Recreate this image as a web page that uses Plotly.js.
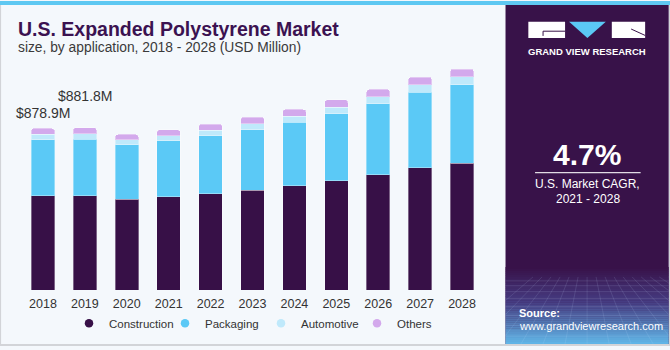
<!DOCTYPE html>
<html>
<head>
<meta charset="utf-8">
<script src="https://cdn.plot.ly/plotly-3.0.1.min.js"></script>
<style>html,body{margin:0;padding:0;background:#f4f8fc;}#chart{width:670px;height:350px;}</style>
</head>
<body>
<div id="chart"></div>
<script>
// ---- data ----
var years = ['2018','2019','2020','2021','2022','2023','2024','2025','2026','2027','2028'];
var construction = [514, 514, 493, 507, 523, 543, 568, 595, 627, 665, 689];
var packaging    = [303, 307, 296, 304, 315, 329, 345, 364, 386, 411, 427];
var automotive   = [29, 29, 28, 28, 30, 31, 32, 35, 39, 41, 44];
var others       = [33, 32, 29, 32, 34, 38, 37, 40, 39, 41, 42];
var seriesNames  = ['Construction', 'Packaging', 'Automotive', 'Others'];
var labelYears   = ['2018', '2019'];
var labelTexts   = ['$878.9M', '$881.8M'];
var cagrText = '4.7%';

// ---- geometry helpers (pixel -> paper) ----
var L = 22.4, W = 460.6, T = 50.8, H = 242.5, B = T + H;
function X(px){ return (px - L) / W; }
function Y(py){ return (B - py) / H; }

var colors = ['#371047', '#5bc9f6', '#bfe9fb', '#d3a9ec'];
var vals = [construction, packaging, automotive, others];
var FONT = 'Liberation Sans, Arial, sans-serif';

var traces = [];
for (var i = 0; i < 4; i++) {
  traces.push({
    type: 'bar', x: years, y: vals[i], name: seriesNames[i],
    marker: {color: colors[i], line: {color: 'rgba(255,255,255,0.35)', width: 1}},
    showlegend: false, hoverinfo: 'skip'
  });
}
for (var j = 0; j < 4; j++) {
  traces.push({
    type: 'scatter', mode: 'markers', x: [null], y: [null], name: seriesNames[j],
    marker: {color: colors[j], size: 8.5, symbol: 'circle'}, showlegend: true, hoverinfo: 'skip'
  });
}

// totals for the labels
var totals = years.map(function(_, k){ return construction[k] + packaging[k] + automotive[k] + others[k]; });

var annotations = [
  {text: 'U.S. Expanded Polystyrene Market', xref: 'paper', yref: 'paper', x: X(16.5), y: Y(28),
   xanchor: 'left', yanchor: 'middle', showarrow: false,
   font: {family: FONT, size: 19.5, color: '#3b1251', weight: 'bold'}},
  {text: 'size, by application, 2018 - 2028 (USD Million)', xref: 'paper', yref: 'paper', x: X(16.5), y: Y(47.5),
   xanchor: 'left', yanchor: 'middle', showarrow: false,
   font: {family: FONT, size: 13.8, color: '#3a3a3a'}},
  // right panel text
  {text: 'GRAND VIEW RESEARCH', xref: 'paper', yref: 'paper', x: X(586.5), y: Y(51),
   xanchor: 'center', yanchor: 'middle', showarrow: false,
   font: {family: FONT, size: 9.5, color: '#ffffff', weight: 'bold'}},
  {text: cagrText, xref: 'paper', yref: 'paper', x: X(587), y: Y(156),
   xanchor: 'center', yanchor: 'middle', showarrow: false,
   font: {family: FONT, size: 30, color: '#ffffff', weight: 'bold'}},
  {text: 'U.S. Market CAGR,', xref: 'paper', yref: 'paper', x: X(587.5), y: Y(186),
   xanchor: 'center', yanchor: 'middle', showarrow: false,
   font: {family: FONT, size: 12, color: '#ffffff'}},
  {text: '2021 - 2028', xref: 'paper', yref: 'paper', x: X(587.5), y: Y(201),
   xanchor: 'center', yanchor: 'middle', showarrow: false,
   font: {family: FONT, size: 12, color: '#ffffff'}},
  {text: '<b>Source:</b>', xref: 'paper', yref: 'paper', x: X(517), y: Y(317),
   xanchor: 'left', yanchor: 'middle', showarrow: false,
   font: {family: FONT, size: 11, color: '#ffffff'}},
  {text: 'www.grandviewresearch.com', xref: 'paper', yref: 'paper', x: X(517), y: Y(330),
   xanchor: 'left', yanchor: 'middle', showarrow: false,
   font: {family: FONT, size: 11, color: '#ffffff'}}
];
var shifts = [15, 32];
for (var a = 0; a < labelYears.length; a++) {
  var idx = years.indexOf(labelYears[a]);
  annotations.push({text: labelTexts[a], x: idx, y: totals[idx], xref: 'x', yref: 'y',
    yshift: shifts[a], yanchor: 'middle', xanchor: 'center', showarrow: false,
    font: {family: FONT, size: 14, color: '#333333'}});
}

function rect(x0, y0, x1, y1, fill, extra) {
  var s = {type: 'rect', xref: 'paper', yref: 'paper', x0: X(x0), x1: X(x1), y0: Y(y0), y1: Y(y1),
    fillcolor: fill, line: {width: 0}, layer: 'below'};
  if (extra) for (var k in extra) s[k] = extra[k];
  return s;
}
function line(x0, y0, x1, y1, color, w) {
  return {type: 'line', xref: 'paper', yref: 'paper', x0: X(x0), x1: X(x1), y0: Y(y0), y1: Y(y1),
    line: {color: color, width: w}, layer: 'above'};
}

var shapes = [];
// frame
shapes.push(rect(0, 0, 670, 4, '#5ec8f2', {layer: 'above'}));
shapes.push(rect(0, 4, 1.5, 350, '#d2d4d8', {layer: 'above'}));
shapes.push(rect(0, 348, 670, 350, '#d2d4d8', {layer: 'above'}));
shapes.push(rect(668.5, 4, 670, 350, '#d2d4d8', {layer: 'above'}));
// panel
shapes.push(rect(505.5, 4, 668.5, 348, '#381249', {layer: 'above'}));
// gradient at panel bottom
var g0 = [56, 18, 73], g1 = [70, 60, 130], g2 = [96, 180, 230];
var ys = 270, ye = 348, steps = 39;
for (var s = 0; s < steps; s++) {
  var t = s / (steps - 1), c;
  if (t < 0.45) { var u = t / 0.45; c = g0.map(function(v, q){ return Math.round(v + (g1[q] - v) * u); }); }
  else { var u2 = (t - 0.45) / 0.55; c = g1.map(function(v, q){ return Math.round(v + (g2[q] - v) * u2); }); }
  var y0 = ys + (ye - ys) * s / steps, y1 = ys + (ye - ys) * (s + 1) / steps + 0.3;
  shapes.push(rect(505.5, y0, 668.5, Math.min(y1, 348), 'rgb(' + c.join(',') + ')', {layer: 'above'}));
}
// faint grid texture
var hy = [284, 289, 295, 302, 310, 319, 329, 340];
hy.forEach(function(yy){ shapes.push(line(505.5, yy, 668.5, yy, 'rgba(200,220,255,0.18)', 0.8)); });
for (var gx = -6; gx <= 14; gx++) {
  var topx = 587 + gx * 9, botx = 587 + gx * 22;
  var bx = Math.max(505.5, Math.min(668.5, botx));
  var by = botx === bx ? 348 : 280 + (348 - 280) * (bx - topx) / (botx - topx);
  if (topx < 505.5 || topx > 668.5) continue;
  shapes.push(line(topx, 280, bx, by, 'rgba(200,220,255,0.16)', 0.8));
}
// cagr divider
shapes.push(line(535, 174.3, 640.5, 174.3, 'rgba(255,255,255,0.85)', 1.2));
// logo
shapes.push(rect(528.3, 21, 565, 37.7, '#ffffff', {layer: 'above'}));
shapes.push(rect(611.7, 21, 645, 37.7, '#ffffff', {layer: 'above'}));
shapes.push({type: 'path', xref: 'paper', yref: 'paper',
  path: 'M' + X(569) + ',' + Y(21) + ' L' + X(605.7) + ',' + Y(21) + ' L' + X(587.3) + ',' + Y(37.7) + ' Z',
  fillcolor: '#5bc8f5', line: {width: 0}, layer: 'above'});
shapes.push(line(543, 30.7, 565, 30.7, '#381249', 1));
shapes.push(line(543, 30.7, 543, 35.5, '#381249', 1));
shapes.push(line(631, 28.5, 645, 35, '#381249', 1));

var layout = {
  width: 670, height: 350,
  margin: {l: L, r: 670 - L - W, t: T, b: 350 - B, pad: 0},
  paper_bgcolor: '#f4f8fc', plot_bgcolor: '#f4f8fc',
  barmode: 'stack', bargap: 0.44, barcornerradius: 3,
  font: {family: FONT, color: '#333333'},
  xaxis: {type: 'category', range: [-0.5, 10.5], showgrid: false, zeroline: false, showline: false,
    ticks: '', ticklabelstandoff: 4, tickfont: {family: FONT, size: 12.5, color: '#333333'}, fixedrange: true},
  yaxis: {range: [0, 1300], visible: false, fixedrange: true},
  showlegend: true,
  legend: {orientation: 'h', traceorder: 'normal', x: X(261.2), xanchor: 'center', y: Y(327), yanchor: 'middle',
    font: {family: FONT, size: 11.5, color: '#333333'}, itemgap: 0, entrywidth: 51, entrywidthmode: 'pixels',
    bgcolor: 'rgba(0,0,0,0)', itemclick: false, itemdoubleclick: false},
  annotations: annotations, shapes: shapes
};

Plotly.newPlot('chart', traces, layout, {displayModeBar: false, staticPlot: true});
</script>
</body>
</html>
